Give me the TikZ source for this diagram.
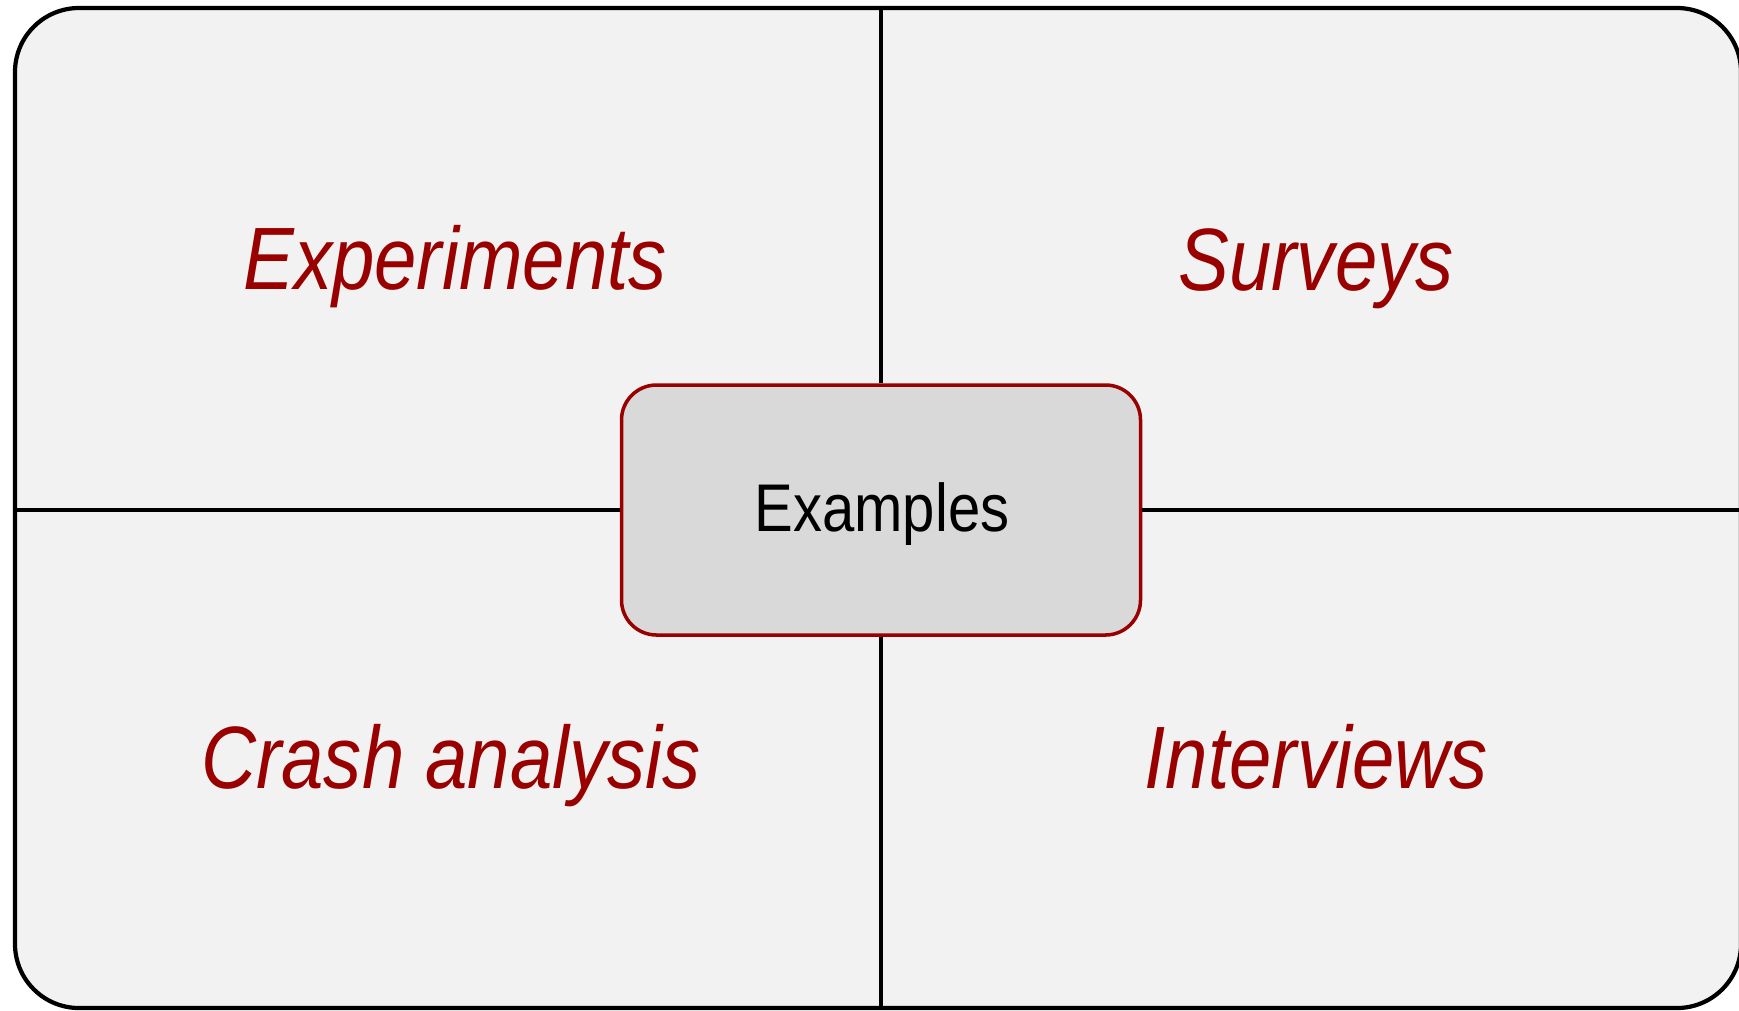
\documentclass[tikz,border=0pt]{standalone}
\usepackage{fontspec}
\setmainfont{Liberation Sans}[FakeStretch=0.86]
\usetikzlibrary{positioning}
\definecolor{labelred}{RGB}{153,0,0}
\definecolor{panelgray}{RGB}{242,242,242}
\definecolor{boxgray}{RGB}{217,217,217}

\begin{document}
\begin{tikzpicture}[
  quad/.style={font=\fontsize{25.2}{30}\selectfont\itshape, text=labelred, anchor=base, inner sep=0pt},
  divider/.style={line width=1pt}]
  \useasboundingbox (0,0) rectangle (17.39,-10.10);
  \node (frame) [draw, line width=1.2pt, fill=panelgray, rounded corners=0.64cm,
    minimum width=17.26cm, minimum height=10cm, inner sep=0pt] at (8.78,-5.08) {};
  \node (ex) [draw=labelred, line width=1pt, fill=boxgray, rounded corners=0.35cm,
    minimum width=5.19cm, minimum height=2.5cm, font=\fontsize{19.2}{24}\selectfont] at (8.81,-5.10) {};
  % four quadrants
  \draw[divider] (ex.north) -- (ex.north |- frame.north);
  \draw[divider] (ex.south) -- (ex.south |- frame.south);
  \draw[divider] (ex.west) -- (ex.west -| frame.west);
  \draw[divider] (ex.east) -- (ex.east -| frame.east);
  \node (extxt) [anchor=base, inner sep=0pt, font=\fontsize{19.2}{24}\selectfont] at (8.82,-5.31) {Examples};
  \node (exp) [quad] at (4.55,-2.89) {Experiments};
  \node (srv) [quad] at (13.16,-2.90) {Surveys};
  \node (crash) [quad] at (4.51,-7.88) {Crash analysis};
  \node (intv) [quad] at (13.16,-7.88) {Interviews};
\end{tikzpicture}
\end{document}
